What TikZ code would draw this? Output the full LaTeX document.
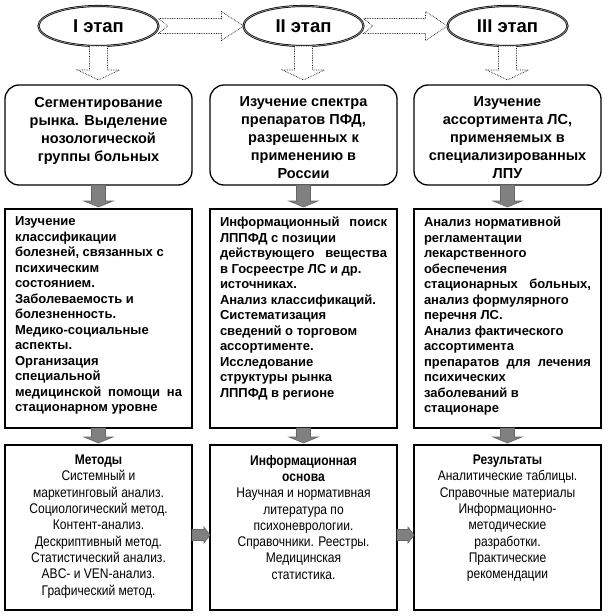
\documentclass[tikz,border=0pt]{standalone}
\usepackage{fontspec}
\setmainfont{Liberation Sans}
\newfontfamily\narrowfont[FakeStretch=0.86]{Liberation Sans}
\usetikzlibrary{positioning,calc,shapes.geometric}

\newcommand{\topbox}[3]{\parbox[c][#1][t]{#2}{#3}}
\newcommand{\fullline}[1]{\makebox[\linewidth][s]{#1}}
% block arrows: style, from, to, half shaft, half head, head length (, notch)
\newcommand{\blockdown}[6]{\draw[#1] let \p1=(#2), \p2=(#3) in
  (\x1-#4,\y1) -- (\x1-#4,\y2+#6) -- (\x1-#5,\y2+#6) -- (\x1,\y2)
  -- (\x1+#5,\y2+#6) -- (\x1+#4,\y2+#6) -- (\x1+#4,\y1) -- cycle;}
\newcommand{\blockright}[7]{\draw[#1] let \p1=(#2), \p2=(#3) in
  (\x1,\y1+#4) -- (\x2-#6,\y1+#4) -- (\x2-#6,\y1+#5) -- (\x2,\y1)
  -- (\x2-#6,\y1-#5) -- (\x2-#6,\y1-#4) -- (\x1,\y1-#4) -- (\x1+#7,\y1) -- cycle;}

\begin{document}
\begin{tikzpicture}[x=1pt, y=1pt,
stage/.style={ellipse, draw=black, line width=0.7pt, double=black!40, double distance=0.7pt,
  fill=white, minimum width=120pt, minimum height=40pt, inner sep=0pt, outer sep=0pt,
  font=\fontsize{18.5}{20}\selectfont\bfseries},
taskbox/.style={draw=black, line width=1.3pt, rounded corners=14pt, fill=white,
  minimum width=187pt, minimum height=100pt, inner xsep=7.5pt, inner ysep=12pt, outer sep=0pt,
  font=\fontsize{14.5}{18}\selectfont\bfseries},
workbox/.style={draw=black, line width=1.1pt, fill=white,
  minimum width=187pt, minimum height=219pt, inner xsep=10pt, inner ysep=8pt, outer sep=0pt,
  font=\fontsize{13}{15.5}\selectfont\bfseries},
basebox/.style={draw=black, line width=1.1pt, fill=white,
  minimum width=187pt, minimum height=165pt, inner xsep=6pt, inner ysep=10pt, outer sep=0pt,
  font=\narrowfont\fontsize{14}{16.3}\selectfont},
hollow/.style={draw=black!90, densely dotted, fill=white, line width=0.7pt},
grayarr/.style={draw=black!60, fill=black!50, line width=0.6pt}
]
\useasboundingbox (0,0) rectangle (608,-616);
%Tasks
\node[taskbox] (s1) at (98.5,-135) {\topbox{76pt}{172pt}{\centering
  Сегментирование\\ рынка. Выделение\\ нозологической\\ группы больных}};
\node[taskbox] (s2) [right=18pt of s1] {\topbox{76pt}{172pt}{\centering
  Изучение спектра\\ препаратов ПФД,\\ разрешенных к\\ применению в\\ России}};
\node[taskbox] (s3) [right=17pt of s2] {\topbox{76pt}{172pt}{\centering
  Изучение\\ ассортимента ЛС,\\ применяемых в\\ специализированных\\ ЛПУ}};
%Stages
\node[stage] (e1) [above=39pt of s1] {I этап};
\node[stage] (e2) [above=39pt of s2] {II этап};
\node[stage] (e3) [above=39pt of s3] {III этап};
%Work
\node[workbox] (w1) [below=24pt of s1] {\topbox{203pt}{167pt}{\raggedright
  Изучение\\ классификации\\ болезней, связанных с\\ психическим\\ состоянием.\\
  Заболеваемость и\\ болезненность.\\ Медико-социальные\\ аспекты.\\ Организация\\
  специальной\\ \fullline{медицинской помощи на}\\ стационарном уровне}};
\node[workbox] (w2) [below=24pt of s2] {\topbox{203pt}{167pt}{\raggedright
  \fullline{Информационный поиск}\\ ЛППФД с позиции\\ \fullline{действующего вещества}\\
  в Госреестре ЛС и др.\\ источниках.\\ Анализ классификаций.\\ Систематизация\\
  сведений о торговом\\ ассортименте.\\ Исследование\\ структуры рынка\\ ЛППФД в регионе}};
\node[workbox] (w3) [below=24pt of s3] {\topbox{203pt}{167pt}{\raggedright
  Анализ нормативной\\ регламентации\\ лекарственного\\ обеспечения\\
  \fullline{стационарных больных,}\\ анализ формулярного\\ перечня ЛС.\\
  Анализ фактического\\ ассортимента\\ \fullline{препаратов для лечения}\\
  психических\\ заболеваний в\\ стационаре}};
%Basis
\node[basebox] (b1) [below=17pt of w1] {\topbox{145pt}{175pt}{\centering
  \textbf{Методы}\\ Системный и\\ маркетинговый анализ.\\ Социологический метод.\\
  Контент-анализ.\\ Дескриптивный метод.\\ Статистический анализ.\\
  ABC- и VEN-анализ.\\ Графический метод.}};
\node[basebox] (b2) [below=17pt of w2] {\topbox{145pt}{175pt}{\centering
  \textbf{Информационная}\\ \textbf{основа}\\ Научная и нормативная\\ литература по\\
  психоневрологии.\\ Справочники. Реестры.\\ Медицинская\\ статистика.}};
\node[basebox] (b3) [below=17pt of w3] {\topbox{145pt}{175pt}{\centering
  \textbf{Результаты}\\ Аналитические таблицы.\\ Справочные материалы\\
  Информационно-\\ методические\\ разработки.\\ Практические\\ рекомендации}};
%Arrows
\blockright{hollow}{e1.east}{e2.west}{7.5pt}{14.5pt}{22pt}{9pt}
\blockright{hollow}{e2.east}{e3.west}{7.5pt}{14.5pt}{22pt}{9pt}
\blockdown{hollow}{e1.south}{$(s1.north)+(0,5)$}{9pt}{21pt}{10pt}
\blockdown{hollow}{e2.south}{$(s2.north)+(0,5)$}{9pt}{21pt}{10pt}
\blockdown{hollow}{e3.south}{$(s3.north)+(0,5)$}{9pt}{21pt}{10pt}
\blockdown{grayarr}{s1.south}{$(w1.north)+(0,2)$}{7pt}{14.5pt}{6pt}
\blockdown{grayarr}{s2.south}{$(w2.north)+(0,2)$}{7pt}{14.5pt}{6pt}
\blockdown{grayarr}{s3.south}{$(w3.north)+(0,2)$}{7pt}{14.5pt}{6pt}
\blockdown{grayarr}{w1.south}{$(b1.north)+(0,2)$}{7pt}{14.5pt}{6pt}
\blockdown{grayarr}{w2.south}{$(b2.north)+(0,2)$}{7pt}{14.5pt}{6pt}
\blockdown{grayarr}{w3.south}{$(b3.north)+(0,2)$}{7pt}{14.5pt}{6pt}
\blockright{grayarr}{$(b1.east)+(0,-7.5)$}{$(b2.west)+(0,-7.5)$}{5.5pt}{8pt}{6pt}{0pt}
\blockright{grayarr}{$(b2.east)+(0,-7.5)$}{$(b3.west)+(0,-7.5)$}{5.5pt}{8pt}{6pt}{0pt}
\end{tikzpicture}
\end{document}
